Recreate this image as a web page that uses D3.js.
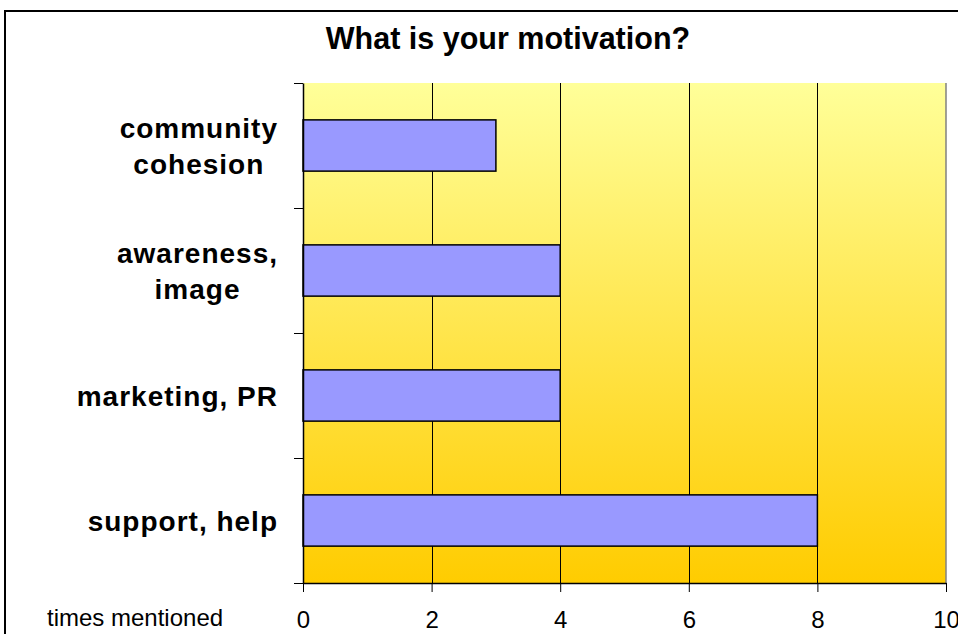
<!DOCTYPE html>
<html>
<head>
<meta charset="utf-8">
<script src="https://cdn.jsdelivr.net/npm/d3@7"></script>
<style>
  body { margin: 0; background: #fff; }
  svg { display: block; font-family: Arial, "Liberation Sans", sans-serif; }
</style>
</head>
<body>
<script>
// data
var categories = [["community", "cohesion"], ["awareness,", "image"], ["marketing, PR"], ["support, help"]];
var mentions = [3, 4, 4, 8];
var xTicks = [0, 2, 4, 6, 8, 10];

var width = 958, height = 634;
var plot = {left: 303, right: 946, top: 83, bottom: 583};

var svg = d3.select("body").append("svg")
  .attr("width", width)
  .attr("height", height);

// gradient fill of the plot area (light yellow at top, gold at bottom)
var grad = svg.append("defs").append("linearGradient")
  .attr("id", "bg")
  .attr("x1", 0).attr("y1", 0).attr("x2", 0).attr("y2", 1);
grad.append("stop").attr("offset", "0%").attr("stop-color", "#ffff99");
grad.append("stop").attr("offset", "100%").attr("stop-color", "#ffcc00");

// outer chart border (runs off the picture on right and bottom)
svg.append("rect")
  .attr("x", 5).attr("y", 11)
  .attr("width", 1000).attr("height", 700)
  .attr("fill", "none")
  .attr("stroke", "#000")
  .attr("stroke-width", 2);

var x = d3.scaleLinear()
  .domain([0, 10])
  .range([plot.left, plot.right]);

var y = d3.scaleBand()
  .domain(d3.range(categories.length))
  .range([plot.top, plot.bottom])
  .paddingInner(0.59)
  .paddingOuter(0.295);

svg.append("rect")
  .attr("x", plot.left).attr("y", plot.top)
  .attr("width", plot.right - plot.left)
  .attr("height", plot.bottom - plot.top)
  .attr("fill", "url(#bg)");

// plot border on the right side (grey)
svg.append("line")
  .attr("x1", plot.right).attr("x2", plot.right)
  .attr("y1", plot.top).attr("y2", plot.bottom)
  .attr("stroke", "#808080")
  .attr("stroke-width", 1.5);

// vertical grid lines
svg.selectAll(".grid")
  .data(xTicks.slice(1, -1))
  .enter().append("line")
  .attr("class", "grid")
  .attr("x1", d => Math.round(x(d)) + 0.5)
  .attr("x2", d => Math.round(x(d)) + 0.5)
  .attr("y1", plot.top)
  .attr("y2", plot.bottom)
  .attr("stroke", "#000")
  .attr("stroke-width", 1);

// bars
svg.selectAll(".bar")
  .data(mentions)
  .enter().append("rect")
  .attr("class", "bar")
  .attr("x", x(0))
  .attr("y", (d, i) => y(i))
  .attr("width", d => x(d) - x(0))
  .attr("height", y.bandwidth())
  .attr("fill", "#9999ff")
  .attr("stroke", "#000")
  .attr("stroke-width", 1.5);

// x axis
var xAxis = d3.axisBottom(x)
  .tickValues(xTicks)
  .tickSize(9)
  .tickSizeOuter(0);

var gx = svg.append("g")
  .attr("transform", "translate(0," + plot.bottom + ")")
  .call(xAxis);
gx.select(".domain").attr("stroke", "#000").attr("stroke-width", 1.5);
gx.selectAll(".tick line").attr("stroke", "#000");
// baseline of the tick numbers at y = 628
gx.selectAll(".tick text")
  .attr("font-size", 24)
  .attr("font-family", "Arial, 'Liberation Sans', sans-serif")
  .attr("fill", "#000")
  .attr("y", 45)
  .attr("dy", 0);

// y axis: ticks sit between categories
var yEdges = d3.scaleLinear().domain([0, categories.length]).range([plot.top, plot.bottom]);
var yAxis = d3.axisLeft(yEdges)
  .ticks(categories.length)
  .tickSize(9)
  .tickFormat("")
  .tickSizeOuter(0);

var gy = svg.append("g")
  .attr("transform", "translate(" + plot.left + ",0)")
  .call(yAxis);
gy.select(".domain").attr("stroke", "#000").attr("stroke-width", 1.5);
gy.selectAll(".tick line").attr("stroke", "#000");

// category labels, lines centred in a block that ends at x = 278
var lineH = 36;
categories.forEach(function(lines, i) {
  var cy = y(i) + y.bandwidth() / 2;
  var g = svg.append("g");
  var texts = g.selectAll("text")
    .data(lines)
    .enter().append("text")
    .attr("font-size", 28)
    .attr("font-weight", "bold")
    .attr("letter-spacing", 1)
    .attr("text-anchor", "middle")
    .attr("y", (d, k) => cy + 10 + (k - (lines.length - 1) / 2) * lineH)
    .text(d => d);
  var w = d3.max(texts.nodes(), n => n.getComputedTextLength());
  texts.attr("x", 278 - w / 2);
});

// title
svg.append("text")
  .attr("x", 508)
  .attr("y", 49)
  .attr("text-anchor", "middle")
  .attr("font-size", 30.5)
  .attr("font-weight", "bold")
  .text("What is your motivation?");

// axis caption at the left of the tick labels
svg.append("text")
  .attr("x", 47)
  .attr("y", 626)
  .attr("font-size", 24)
  .text("times mentioned");
</script>
</body>
</html>
